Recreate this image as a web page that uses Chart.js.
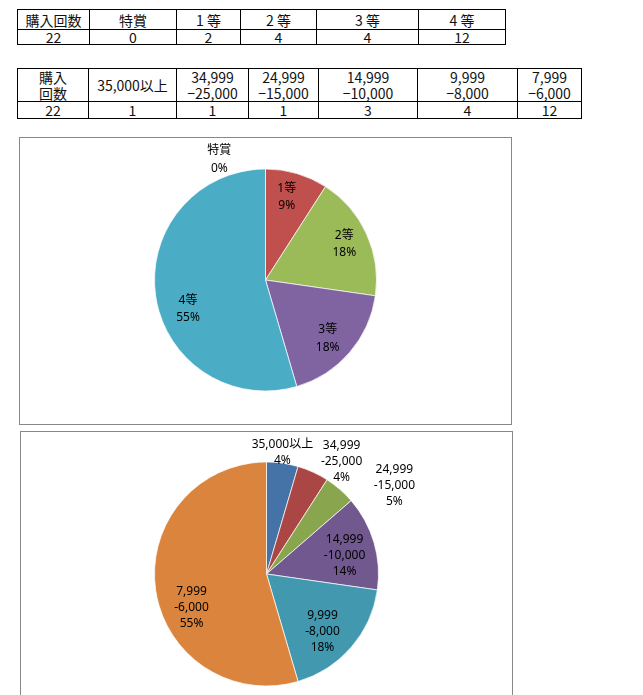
<!DOCTYPE html>
<html><head><meta charset="utf-8">
<script src="https://cdn.jsdelivr.net/npm/chart.js@4/dist/chart.umd.min.js"></script>
<style>
body{margin:0;background:#fff;width:643px;height:695px;overflow:hidden;position:relative;font-family:"Noto Sans CJK JP",sans-serif;}
table{position:absolute;border-collapse:collapse;table-layout:fixed;font-size:14px;color:#111;font-family:"Liberation Sans Narrow","Noto Sans CJK JP",sans-serif;}
td{border:1px solid #000;padding:0;text-align:center;white-space:nowrap;overflow:hidden;}
.box{position:absolute;border:1px solid #888;background:#fff;overflow:hidden;}
.box canvas{display:block;}
</style></head><body>
<table id="t1" style="left:17px;top:9px;"></table>
<table id="t2" style="left:17px;top:68px;"></table>
<div class="box" style="left:19px;top:137px;width:491px;height:286px;"><canvas id="c1" width="491" height="286"></canvas></div>
<div class="box" style="left:20px;top:431px;width:491px;height:300px;"><canvas id="c2" width="491" height="286"></canvas></div>
<script>
// ---- data ----
const headerLabel1 = "購入回数";
const headerLabel2 = "購入\n回数";
const totalPurchases = 22;
const prizeCats = ["特賞", "1等", "2等", "3等", "4等"];
const prizeCounts = [0, 2, 4, 4, 12];
const prizePctLabels = ["0%", "9%", "18%", "18%", "55%"];
const rangeCats = ["35,000以上", "34,999\n-25,000", "24,999\n-15,000", "14,999\n-10,000", "9,999\n-8,000", "7,999\n-6,000"];
const rangeCounts = [1, 1, 1, 3, 4, 12];
const rangePctLabels = ["4%", "4%", "5%", "14%", "18%", "55%"];

// ---- tables ----
function buildTable(id, widths, head, vals, h1, h2, lh) {
  const t = document.getElementById(id);
  const cg = document.createElement('colgroup');
  widths.forEach(w => { const c = document.createElement('col'); c.style.width = w + 'px'; cg.appendChild(c); });
  t.appendChild(cg);
  const r1 = t.insertRow(); r1.style.height = h1 + 'px';
  head.forEach(s => { const td = r1.insertCell(); td.style.lineHeight = lh + 'px'; td.innerHTML = s.replace(/-/g, '−').split('\n').join('<br>'); });
  const r2 = t.insertRow(); r2.style.height = h2 + 'px';
  vals.forEach(v => { const td = r2.insertCell(); td.style.lineHeight = (h2 - 1) + 'px'; td.textContent = v; });
  t.style.width = widths.reduce((a, b) => a + b, 0) + 'px';
}
buildTable('t1', [72, 87, 64, 76, 102, 87], [headerLabel1].concat(prizeCats.map(s => s.replace(/^(\d)/, '$1 '))), [totalPurchases].concat(prizeCounts), 20, 15, 18);
buildTable('t2', [71, 88, 72, 70, 99, 100, 64], [headerLabel2].concat(rangeCats), [totalPurchases].concat(rangeCounts), 32, 17, 16);

// ---- slice label plugin ----
const sliceLabels = {
  id: 'sliceLabels',
  afterDatasetsDraw(chart, args, opts) {
    const ctx = chart.ctx;
    const meta = chart.getDatasetMeta(0);
    ctx.save();
    ctx.font = opts.font; ctx.fillStyle = opts.color;
    ctx.textAlign = 'center'; ctx.textBaseline = 'middle';
    meta.data.forEach((arc, i) => {
      const p = arc.getProps(['x', 'y', 'startAngle', 'endAngle', 'outerRadius'], true);
      const [rf, shift] = opts.place[i];
      const a = (p.startAngle + p.endAngle) / 2 + shift * Math.PI / 180;
      const cx = p.x + Math.cos(a) * p.outerRadius * rf;
      const cy = p.y + Math.sin(a) * p.outerRadius * rf;
      const lines = opts.lines[i];
      const y0 = cy - (lines.length - 1) * opts.lineHeight / 2;
      lines.forEach((t, k) => ctx.fillText(t, cx, y0 + k * opts.lineHeight));
    });
    ctx.restore();
  }
};

function makePie(id, labels, data, pcts, colors, radius, padTop, padBottom, place, lh) {
  new Chart(document.getElementById(id), {
    type: 'pie',
    data: { labels: labels, datasets: [{ data: data, backgroundColor: colors, borderColor: 'rgba(255,255,255,0.7)', borderWidth: 1, radius: radius }] },
    options: {
      responsive: false, animation: false,
      layout: { padding: { top: padTop, bottom: padBottom } },
      plugins: {
        legend: { display: false }, tooltip: { enabled: false },
        sliceLabels: {
          font: '12px "Noto Sans", "Noto Sans CJK JP", sans-serif', color: '#000', lineHeight: lh, place: place,
          lines: labels.map((l, i) => l.split('\n').concat([pcts[i]]))
        }
      }
    },
    plugins: [sliceLabels]
  });
}

makePie('c1', prizeCats, prizeCounts, prizePctLabels,
  ['#4F81BD', '#C0504D', '#9BBB59', '#8064A2', '#4BACC6'], 111, 31, 33,
  [[1.16, -21], [0.77, -2], [0.78, 0], [0.77, 2.4], [0.745, -12.3]], 17.5);

makePie('c2', rangeCats, rangeCounts, rangePctLabels,
  ['#4572A7', '#AA4643', '#89A54E', '#71588F', '#4198AF', '#DB843D'], 112, 31, 33,
  [[1.09, -0.7], [1.21, 9.1], [1.39, 14.3], [0.715, 3.4], [0.717, 4.9], [0.735, -16.2]], 16);
</script>
</body></html>
